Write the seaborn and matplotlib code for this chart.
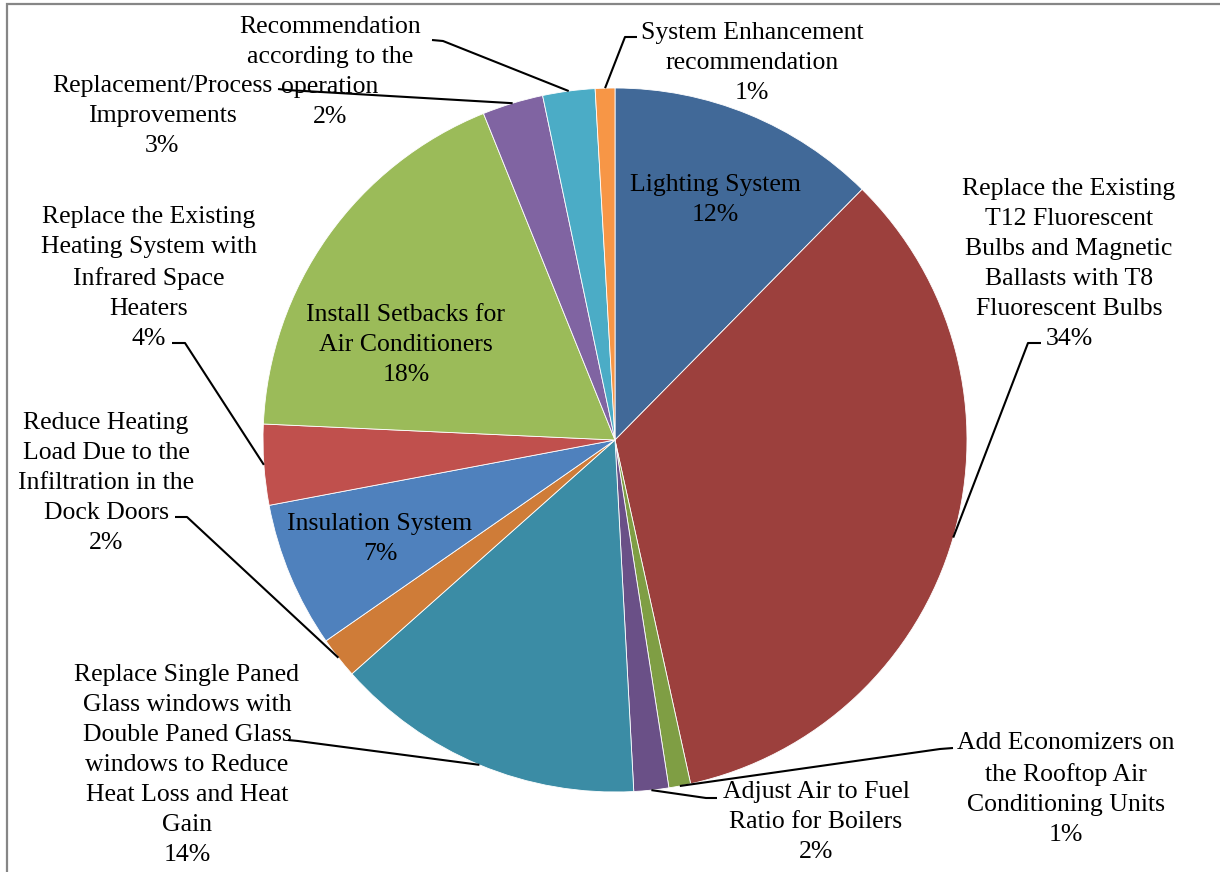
import matplotlib
matplotlib.use("Agg")
import matplotlib.pyplot as plt
import numpy as np
import seaborn as sns
from matplotlib.patches import Rectangle

# Energy-saving measures, clockwise from 12 o'clock
measures = [
    "Lighting System",
    "Replace the Existing\nT12 Fluorescent\nBulbs and Magnetic\nBallasts with T8\nFluorescent Bulbs",
    "Add Economizers on\nthe Rooftop Air\nConditioning Units",
    "Adjust Air to Fuel\nRatio for Boilers",
    "Replace Single Paned\nGlass windows with\nDouble Paned Glass\nwindows to Reduce\nHeat Loss and Heat\nGain",
    "Reduce Heating\nLoad Due to the\nInfiltration in the\nDock Doors",
    "Insulation System",
    "Replace the Existing\nHeating System with\nInfrared Space\nHeaters",
    "Install Setbacks for\nAir Conditioners",
    "Replacement/Process\nImprovements",
    "Recommendation\naccording to the\noperation",
    "System Enhancement\nrecommendation",
]
shares = [12.4, 34.2, 1.0, 1.6, 14.3, 1.9, 6.7, 3.7, 18.2, 2.8, 2.4, 0.9]
slice_colors = [
    "#416998", "#9c403d", "#7f9e44", "#6a5087", "#3b8ca5", "#cf7c38",
    "#4f81bd", "#c0504d", "#9bbb59", "#8064a2", "#4bacc6", "#f79646",
]

W, H = 1220, 872


def P(x, y):
    """Pixel position (origin top-left) -> axes data coordinates."""
    return x, H - y


# label centre, and for outside labels the start/elbow of the leader line
label_pos = [
    (715, 200), (1069, 264), (1066, 789), (816, 822), (187, 765), (106, 483),
    (380, 539), (149, 278), (406, 345), (162, 116), (330, 72), (752, 63),
]
leader = [
    None,
    ((1041, 343), (1028, 343)),
    ((953, 748), (940, 749)),
    ((717, 798), (706, 798)),
    ((288, 740), (298, 741)),
    ((175, 517), (187, 517)),
    None,
    ((172, 343), (185, 343)),
    None,
    ((278, 89), (287, 90)),
    ((432, 40), (443, 41)),
    ((637, 37), (625, 37)),
]

sns.set_theme(style="white")
plt.rcParams["font.family"] = ["Liberation Serif", "DejaVu Serif"]

fig = plt.figure(figsize=(W / 100, H / 100), dpi=100)
ax = fig.add_axes([0, 0, 1, 1])

cx, cy = P(615, 440)
R = 352
wedges, _ = ax.pie(
    shares,
    colors=slice_colors,
    startangle=90,
    counterclock=False,
    center=(cx, cy),
    radius=R,
    wedgeprops=dict(edgecolor="white", linewidth=0.6),
)
ax.set_xlim(0, W)
ax.set_ylim(0, H)
ax.set_aspect("equal")
ax.axis("off")

total = sum(shares)
for i, (w, name) in enumerate(zip(wedges, measures)):
    pct = shares[i] / total * 100
    text = f"{name}\n{pct:.0f}%"
    lx, ly = P(*label_pos[i])
    ax.text(lx, ly, text, ha="center", va="center", fontsize=18.5,
            color="black", linespacing=1.47, zorder=4)
    if leader[i] is not None:
        mid = np.deg2rad((w.theta1 + w.theta2) / 2)
        ex, ey = cx + R * np.cos(mid), cy + R * np.sin(mid)
        (sx, sy), (bx, by) = leader[i]
        sx, sy = P(sx, sy)
        bx, by = P(bx, by)
        ax.plot([sx, bx, ex], [sy, by, ey], color="black", lw=1.5,
                solid_capstyle="butt", zorder=3)

# chart-area frame
fig.patches.append(Rectangle((7 / W, -0.05), 1.2, 1.05 - 4.5 / H,
                             transform=fig.transFigure, fill=False,
                             edgecolor="#868686", linewidth=1.6))

fig.savefig("out.png", dpi=100, facecolor="white")
